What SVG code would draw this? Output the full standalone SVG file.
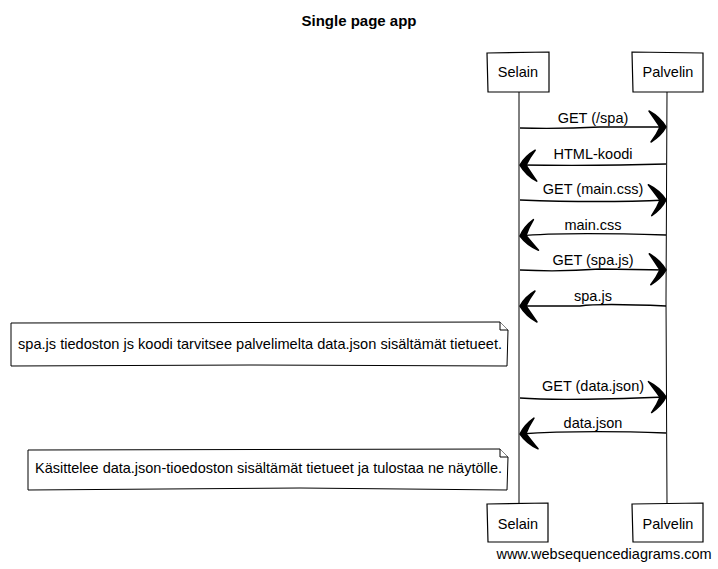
<svg xmlns="http://www.w3.org/2000/svg" width="718" height="569" viewBox="0 0 718 569">
<style>
text{font-family:"Liberation Sans",Arial,sans-serif;font-size:14.5px;fill:#000}
.title{font-weight:bold;font-size:15px}
.box{fill:#fff;stroke:#000;stroke-width:1.2}
.life{fill:none;stroke:#000;stroke-width:1}
.msg{fill:none;stroke:#000;stroke-width:1.3}
.note{fill:#fff;stroke:#000;stroke-width:1}
</style>
<defs>
<marker id="ah" markerUnits="userSpaceOnUse" markerWidth="24" markerHeight="36" viewBox="-20 -18 22 36" refX="0" refY="0" orient="auto">
<path d="M0,0 Q-6,-10 -17,-16 Q-10,-6 -6,0 Q-9,7 -15,15 Q-5,9 0,0 Z" fill="#000" stroke="#000" stroke-width="1.5" stroke-linejoin="round"/>
</marker>
</defs>
<rect width="718" height="569" fill="#fff"/>
<text class="title" x="359" y="26" text-anchor="middle">Single page app</text>
<g id="lifelines">
<path class="life" d="M519,92 L519,504"/>
<path class="life" d="M667,92 L666,300 L667,504"/>
</g>
<g id="selain">
<path class="box" d="M487,53 L549,52 L549,92 L488,92 Z"/>
<text x="518" y="77" text-anchor="middle">Selain</text>
</g>
<g id="palvelin">
<path class="box" d="M632,52 L703,53 L703,92 L633,92 Z"/>
<text x="668" y="77" text-anchor="middle">Palvelin</text>
</g>
<g id="selain-bottom">
<path class="box" d="M487,504 L548,503 L548,542 L488,542 Z"/>
<text x="518" y="529" text-anchor="middle">Selain</text>
</g>
<g id="palvelin-bottom">
<path class="box" d="M632,504 L703,503 L703,542 L633,542 Z"/>
<text x="668" y="529" text-anchor="middle">Palvelin</text>
</g>
<g id="connectors">
<path class="msg" d="M520,128 Q560,129 600,127 L666,127" marker-end="url(#ah)"/>
<text x="593" y="123" text-anchor="middle">GET (/spa)</text>
<path class="msg" d="M666,164 Q600,166 520,165" marker-end="url(#ah)"/>
<text x="593" y="159" text-anchor="middle">HTML-koodi</text>
<path class="msg" d="M520,200 Q600,203 666,200" marker-end="url(#ah)"/>
<text x="593" y="194" text-anchor="middle">GET (main.css)</text>
<path class="msg" d="M666,235 Q560,232 520,236" marker-end="url(#ah)"/>
<text x="593" y="230" text-anchor="middle">main.css</text>
<path class="msg" d="M520,270 Q560,272 600,269 L666,270" marker-end="url(#ah)"/>
<text x="593" y="265" text-anchor="middle">GET (spa.js)</text>
<path class="msg" d="M666,306 Q600,303 580,306 L520,306" marker-end="url(#ah)"/>
<text x="593" y="301" text-anchor="middle">spa.js</text>
<path class="msg" d="M520,398 Q560,401 666,397" marker-end="url(#ah)"/>
<text x="593" y="391" text-anchor="middle">GET (data.json)</text>
<path class="msg" d="M666,433 Q580,430 520,434" marker-end="url(#ah)"/>
<text x="593" y="428" text-anchor="middle">data.json</text>
</g>
<g id="note1">
<path class="note" d="M11,323 L500,322 L508,330 L507,366 L250,365 L11,366 Z"/>
<path class="note" d="M500,322 L500,330 L508,330"/>
<text x="18" y="349" textLength="484" lengthAdjust="spacingAndGlyphs">spa.js tiedoston js koodi tarvitsee palvelimelta data.json sisältämät tietueet.</text>
</g>
<g id="note2">
<path class="note" d="M28,450 L500,449 L508,457 L507,490 L300,488 L28,490 Z"/>
<path class="note" d="M500,449 L500,457 L508,457"/>
<text x="35" y="473" textLength="467" lengthAdjust="spacingAndGlyphs">Käsittelee data.json-tioedoston sisältämät tietueet ja tulostaa ne näytölle.</text>
</g>
<text x="604" y="559" text-anchor="middle">www.websequencediagrams.com</text>
</svg>
